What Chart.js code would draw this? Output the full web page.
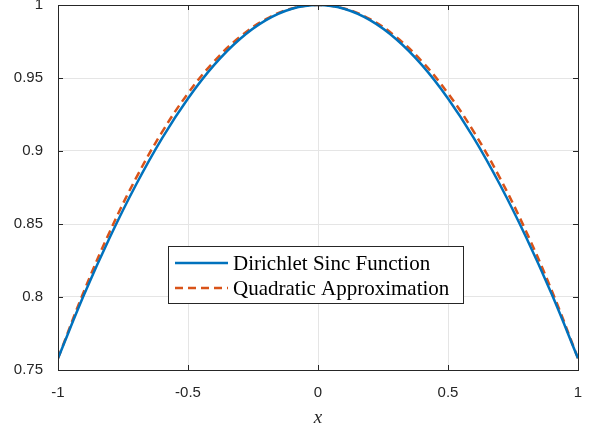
<!DOCTYPE html>
<html>
<head>
<meta charset="utf-8">
<script src="https://cdn.jsdelivr.net/npm/chart.js@4/dist/chart.umd.min.js"></script>
<style>
  html, body { margin: 0; padding: 0; background: #fff; }
  #wrap { width: 592px; height: 429px; }
</style>
</head>
<body>
<div id="wrap"><canvas id="sincChart"></canvas></div>
<script>
const xValues = [-1, -0.9, -0.8, -0.7, -0.6, -0.5, -0.4, -0.3, -0.2, -0.1, 0,
                 0.1, 0.2, 0.3, 0.4, 0.5, 0.6, 0.7, 0.8, 0.9, 1];

const sincValues = [0.7580, 0.8015, 0.8411, 0.8769, 0.9087, 0.9360, 0.9588, 0.9767, 0.9896, 0.9974, 1.0000,
                    0.9974, 0.9896, 0.9767, 0.9588, 0.9360, 0.9087, 0.8769, 0.8411, 0.8015, 0.7580];

const quadValues = [0.7580, 0.8040, 0.8451, 0.8814, 0.9129, 0.9395, 0.9613, 0.9782, 0.9903, 0.9976, 1.0000,
                    0.9976, 0.9903, 0.9782, 0.9613, 0.9395, 0.9129, 0.8814, 0.8451, 0.8040, 0.7580];

const seriesNames = ["Dirichlet Sinc Function", "Quadratic Approximation"];
const xTicks = [-1, -0.5, 0, 0.5, 1];
const yTicks = [0.75, 0.8, 0.85, 0.9, 0.95, 1];

const blue = "#0072BD";
const orange = "#D95319";
const axisColor = "#262626";

function toPoints(ys) {
    return xValues.map((x, i) => ({ x: x, y: ys[i] }));
}

// box round the axes with inward ticks, like matlab
const boxPlugin = {
    id: "box",
    afterDatasetsDraw(chart) {
        const ctx = chart.ctx;
        const a = chart.chartArea;
        const sx = chart.scales.x, sy = chart.scales.y;
        ctx.save();
        ctx.strokeStyle = axisColor;
        ctx.lineWidth = 1;
        ctx.strokeRect(Math.round(a.left) + 0.5, Math.round(a.top) + 0.5,
                       Math.round(a.right - a.left), Math.round(a.bottom - a.top));
        ctx.beginPath();
        xTicks.forEach(t => {
            const px = Math.round(sx.getPixelForValue(t)) + 0.5;
            ctx.moveTo(px, a.bottom); ctx.lineTo(px, a.bottom - 5);
            ctx.moveTo(px, a.top); ctx.lineTo(px, a.top + 5);
        });
        yTicks.forEach(t => {
            const py = Math.round(sy.getPixelForValue(t)) + 0.5;
            ctx.moveTo(a.left, py); ctx.lineTo(a.left + 5, py);
            ctx.moveTo(a.right, py); ctx.lineTo(a.right - 5, py);
        });
        ctx.stroke();
        ctx.restore();
    }
};

const legendPlugin = {
    id: "boxLegend",
    afterDraw(chart) {
        const ctx = chart.ctx;
        const x0 = 168, y0 = 246, w = 295, h = 57;
        ctx.save();
        ctx.fillStyle = "#fff";
        ctx.fillRect(x0, y0, w, h);
        ctx.strokeStyle = axisColor;
        ctx.lineWidth = 1;
        ctx.strokeRect(x0 + 0.5, y0 + 0.5, w, h);
        const rows = [263, 288];
        const colors = [blue, orange];
        const dashes = [[], [8, 5]];
        rows.forEach((ry, i) => {
            ctx.beginPath();
            ctx.strokeStyle = colors[i];
            ctx.lineWidth = 2.5;
            ctx.setLineDash(dashes[i]);
            ctx.moveTo(175, ry);
            ctx.lineTo(228, ry);
            ctx.stroke();
            ctx.setLineDash([]);
            ctx.fillStyle = "#000";
            ctx.font = "21px 'Liberation Serif'";
            ctx.textBaseline = "middle";
            ctx.fillText(seriesNames[i], 233, ry + 1);
        });
        ctx.restore();
    }
};

new Chart(document.getElementById("sincChart"), {
    type: "line",
    data: {
        datasets: [{
            label: seriesNames[0],
            data: toPoints(sincValues),
            borderColor: blue,
            borderWidth: 2.5,
            pointRadius: 0,
            tension: 0.4,
            fill: false
        }, {
            label: seriesNames[1],
            data: toPoints(quadValues),
            borderColor: orange,
            borderWidth: 2.5,
            borderDash: [8, 5],
            pointRadius: 0,
            tension: 0.4,
            fill: false
        }]
    },
    options: {
        responsive: true,
        maintainAspectRatio: false,
        animation: false,
        layout: { padding: { top: 5, right: 14, left: 0, bottom: 0 } },
        plugins: {
            legend: { display: false },
            tooltip: { enabled: false }
        },
        scales: {
            x: {
                type: "linear",
                min: -1,
                max: 1,
                afterBuildTicks: s => { s.ticks = xTicks.map(v => ({ value: v })); },
                afterFit: s => { s.height = 59; s.paddingLeft = 0; s.paddingRight = 0; },
                grid: { color: "#e5e5e5", drawTicks: false },
                border: { display: false },
                ticks: {
                    color: axisColor,
                    padding: 14,
                    callback: v => String(v),
                    font: { family: "'Liberation Sans', Arial", size: 15 }
                },
                title: {
                    display: true,
                    text: "x",
                    color: axisColor,
                    padding: { top: 4, bottom: 0 },
                    font: { family: "'Liberation Serif'", size: 19, style: "italic" }
                }
            },
            y: {
                min: 0.75,
                max: 1,
                afterBuildTicks: s => { s.ticks = yTicks.map(v => ({ value: v })); },
                afterFit: s => { s.width = 58; s.paddingTop = 0; s.paddingBottom = 0; },
                grid: { color: "#e5e5e5", drawTicks: false },
                border: { display: false },
                ticks: {
                    color: axisColor,
                    padding: 15,
                    callback: v => String(v),
                    font: { family: "'Liberation Sans', Arial", size: 15 }
                }
            }
        }
    },
    plugins: [boxPlugin, legendPlugin]
});
</script>
</body>
</html>
